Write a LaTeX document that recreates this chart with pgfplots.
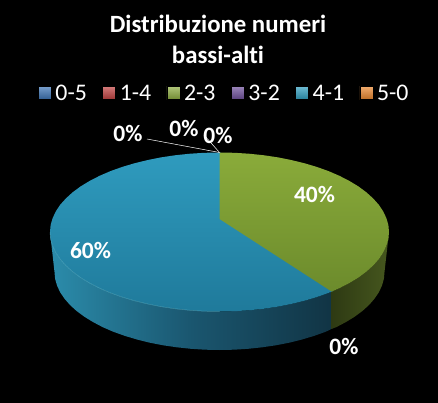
\documentclass[border=0pt]{standalone}
\usepackage{pgfplots}
\usepackage{pgfplotstable}
\pgfplotsset{compat=1.18}
\usepackage{fontspec}
\setmainfont[Ligatures=NoCommon]{Carlito}

% pixel coordinates of the reference, y going down
\pgfplotstableread{
x y
219.5 219
219.5 152.5
234.3 152.8
248.9 153.7
263.4 155.2
277.5 157.3
291.1 160.0
304.3 163.2
316.7 166.9
328.5 171.1
339.4 175.8
349.3 180.9
358.4 186.4
366.3 192.25
373.1 198.4
378.8 204.8
383.2 211.4
386.4 218.2
388.4 225.1
389 232
388.4 238.9
386.4 245.8
383.2 252.6
378.8 259.2
373.1 265.6
366.3 271.75
358.4 277.6
349.3 283.1
339.4 288.2
331.7 291.6
219.5 219
}\topgreen

% blue runs a little under the green so no seam shows
\pgfplotstableread{
x y
221 218.5
333 291
328.5 292.9
316.7 297.1
304.3 300.8
291.1 304.0
277.5 306.7
263.4 308.8
248.9 310.3
234.3 311.2
219.5 311.5
204.7 311.2
190.1 310.3
175.6 308.8
161.5 306.7
147.9 304.0
134.7 300.8
122.3 297.1
110.5 292.9
99.6 288.2
89.7 283.1
80.6 277.6
72.7 271.75
65.9 265.6
60.2 259.2
55.8 252.6
52.6 245.8
50.6 238.9
50 232
50.6 225.1
52.6 218.2
55.8 211.4
60.2 204.8
65.9 198.4
72.7 192.25
80.6 186.4
89.7 180.9
99.6 175.8
110.5 171.1
122.3 166.9
134.7 163.2
147.9 160.0
161.5 157.3
175.6 155.2
190.1 153.7
204.7 152.8
219.5 152.5
221 152.6
221 218.5
}\topblue

\pgfplotstableread{
x y
389 232
388.4 238.9
386.4 245.8
383.2 252.6
378.8 259.2
373.1 265.6
366.3 271.75
358.4 277.6
349.3 283.1
339.4 288.2
331.7 291.6
331.7 328.8
336.2 327.2
345.9 322.1
354.7 316.7
362.4 311
369 305
374.5 298.7
378.9 292.2
382 285.5
383.9 278.8
384.5 272
389 232
}\sidegreen

\pgfplotstableread{
x y
333 291
328.5 292.9
316.7 297.1
304.3 300.8
291.1 304.0
277.5 306.7
263.4 308.8
248.9 310.3
234.3 311.2
219.5 311.5
204.7 311.2
190.1 310.3
175.6 308.8
161.5 306.7
147.9 304.0
134.7 300.8
122.3 297.1
110.5 292.9
99.6 288.2
89.7 283.1
80.6 277.6
72.7 271.75
65.9 265.6
60.2 259.2
55.8 252.6
52.6 245.8
50.6 238.9
50 232
54.5 272
55.1 278.8
57 285.5
60.1 292.2
64.5 298.7
70 305
76.6 311
84.3 316.7
93.1 322.1
102.8 327.2
113.4 331.8
124.9 335.9
137 339.5
149.8 342.7
163.1 345.3
176.8 347.3
190.9 348.8
205.1 349.7
219.5 350
233.9 349.7
248.1 348.8
262.2 347.3
275.9 345.3
289.2 342.7
302 339.5
314.1 335.9
325.6 331.8
333 328.2
333 291
}\sideblue

\pgfplotstableread{
x y
50 232
50.6 238.9
52.6 245.8
55.8 252.6
60.2 259.2
65.9 265.6
72.7 271.75
80.6 277.6
89.7 283.1
99.6 288.2
110.5 292.9
122.3 297.1
134.7 300.8
147.9 304.0
161.5 306.7
175.6 308.8
190.1 310.3
204.7 311.2
219.5 311.5
}\rimblue

\definecolor{sblue}{HTML}{3B73B5}
\definecolor{sred}{HTML}{C0403F}
\definecolor{sgreen}{HTML}{8CAB3E}
\definecolor{spurple}{HTML}{6E4F9B}
\definecolor{steal}{HTML}{2E9DBE}
\definecolor{sorange}{HTML}{E9862D}
\definecolor{sideb1}{HTML}{2B8CAB}
\definecolor{sideb2}{HTML}{1A566F}
\definecolor{sideb3}{HTML}{113444}
\definecolor{sideg1}{HTML}{2E3A13}
\definecolor{sideg2}{HTML}{46571E}
\definecolor{topb1}{HTML}{2F9BBE}
\definecolor{topb2}{HTML}{1F7A9B}
\definecolor{topg1}{HTML}{8AAB3A}
\definecolor{topg2}{HTML}{6C8B2C}
\definecolor{rimb}{HTML}{5FBBD2}

\begin{document}
\begin{tikzpicture}
\begin{axis}[
    scale only axis, width=438pt, height=403pt,
    xmin=0, xmax=438, ymin=0, ymax=403, y dir=reverse,
    xtick=\empty, ytick=\empty,
    axis line style={draw=none},
    axis background/.style={fill=black},
    no markers,
    legend columns=6,
    legend image code/.code={\path[#1] (0pt,-6.5pt) rectangle (13pt,6.5pt);},
    legend style={at={(0.512,0.769)}, anchor=center, draw=none, fill=none,
        text=white, font=\fontsize{23.8}{26}\selectfont,
        /tikz/every even column/.append style={column sep=13.5pt},
        /tikz/every odd column/.append style={column sep=2pt}},
]
% legend first, one entry for each class
\addlegendimage{top color=sblue!70!white, bottom color=sblue!80!black}
\addlegendentry{0-5}
\addlegendimage{top color=sred!70!white, bottom color=sred!80!black}
\addlegendentry{1-4}
\addlegendimage{top color=sgreen!70!white, bottom color=sgreen!80!black}
\addlegendentry{2-3}
\addlegendimage{top color=spurple!70!white, bottom color=spurple!80!black}
\addlegendentry{3-2}
\addlegendimage{top color=steal!70!white, bottom color=steal!80!black}
\addlegendentry{4-1}
\addlegendimage{top color=sorange!70!white, bottom color=sorange!80!black}
\addlegendentry{5-0}

% sides
\addplot[forget plot, draw=none, left color=sideb1, right color=sideb3, middle color=sideb2] table {\sideblue};
\addplot[forget plot, draw=none, left color=sideg1, right color=sideg2] table {\sidegreen};
% top faces
\addplot[forget plot, draw=none, top color=topb1, bottom color=topb2] table {\topblue};
\addplot[forget plot, draw=none, top color=topg1, bottom color=topg2] table {\topgreen};
\addplot[forget plot, rimb, opacity=0.6, line width=0.5pt] table {\rimblue};

% leader lines
\addplot[forget plot, white, line width=0.5pt] coordinates {(147,139) (219.5,152.5)};
\addplot[forget plot, white, line width=0.5pt] coordinates {(204,135) (219.5,152.5)};

\node[text=white, font=\fontsize{24.8}{31}\selectfont\bfseries, align=center] at (axis cs:218,39.5) {Distribuzione numeri\\bassi-alti};
\node[text=white, font=\fontsize{23.5}{28}\selectfont\bfseries] at (axis cs:314.5,194) {40\%};
\node[text=white, font=\fontsize{23.5}{28}\selectfont\bfseries] at (axis cs:90.5,250) {60\%};
\node[text=white, font=\fontsize{23.5}{28}\selectfont\bfseries] at (axis cs:344,346) {0\%};
\node[text=white, font=\fontsize{23.5}{28}\selectfont\bfseries] at (axis cs:128,133) {0\%};
\node[text=white, font=\fontsize{23.5}{28}\selectfont\bfseries] at (axis cs:184,128) {0\%};
\node[text=white, font=\fontsize{23.5}{28}\selectfont\bfseries] at (axis cs:218,135) {0\%};
\end{axis}
\end{tikzpicture}
\end{document}
